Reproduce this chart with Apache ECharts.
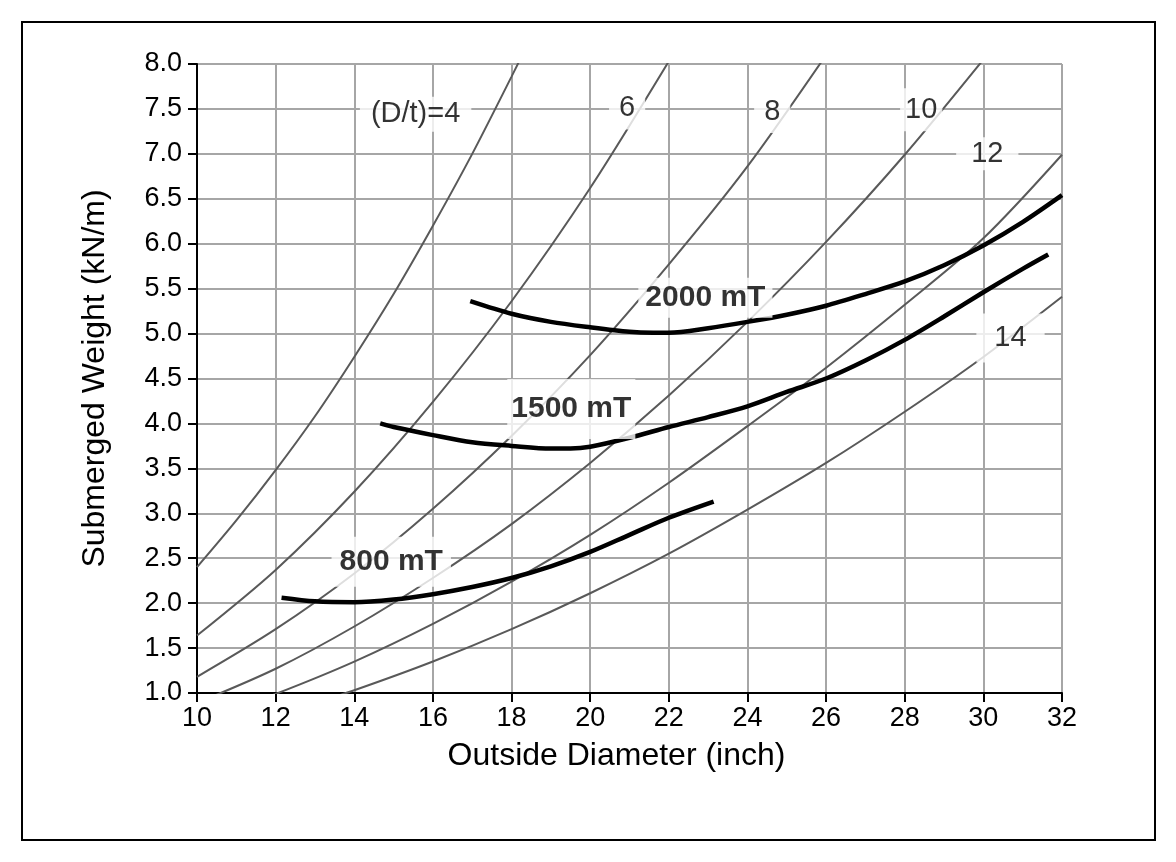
<!DOCTYPE html>
<html>
<head>
<meta charset="utf-8">
<script src="https://cdn.jsdelivr.net/npm/echarts@6/dist/echarts.min.js"></script>
<style>
html,body{margin:0;padding:0;background:#fff;}
#c{width:1176px;height:862px;}
</style>
</head>
<body>
<div id="c"></div>
<script>
// Axis settings
const xTicks = [10,12,14,16,18,20,22,24,26,28,30,32];
const yTicks = [1.0,1.5,2.0,2.5,3.0,3.5,4.0,4.5,5.0,5.5,6.0,6.5,7.0,7.5,8.0];

// D/t curves (Outside Diameter inch, Submerged Weight kN/m)
const dt4  = [[10,2.40],[11,2.92],[12,3.48],[13,4.08],[14,4.74],[15,5.44],[16,6.20],[17,7.00],[18,7.86],[18.5,8.3]];
const dt6  = [[10,1.64],[12,2.37],[14,3.24],[16,4.24],[18,5.36],[20,6.62],[22,8.03]];
const dt8  = [[10,1.18],[12,1.71],[14,2.33],[16,3.05],[18,3.86],[20,4.76],[22,5.77],[24,6.86],[26,8.1]];
const dt10 = [[10,0.89],[12,1.27],[14,1.74],[16,2.28],[18,2.88],[20,3.56],[22,4.31],[24,5.13],[26,6.02],[28,6.99],[30,8.05]];
const dt12 = [[11,0.84],[12,0.99],[14,1.35],[16,1.77],[18,2.24],[20,2.76],[22,3.34],[24,3.97],[26,4.62],[28,5.32],[30,6.06],[32,6.99]];
const dt14 = [[13,0.89],[14,1.03],[16,1.35],[18,1.71],[20,2.11],[22,2.55],[24,3.04],[26,3.56],[28,4.13],[30,4.74],[32,5.41]];

// Load curves
const mt2000 = [[16.95,5.36],[18,5.22],[19,5.13],[20,5.07],[21,5.02],[21.6,5.01],[22,5.01],[23,5.06],[24,5.13],[25,5.21],[26,5.31],[27,5.44],[28,5.58],[29,5.76],[30,5.98],[31,6.24],[32,6.54]];
const mt1500 = [[14.66,4.00],[15,3.96],[16,3.87],[17,3.79],[18,3.75],[19,3.72],[19.5,3.72],[20,3.74],[21,3.84],[22,3.96],[23,4.07],[24,4.19],[25,4.35],[26,4.50],[27,4.70],[28,4.93],[29,5.19],[30,5.46],[31,5.72],[31.65,5.88]];
const mt800  = [[12.15,2.06],[13,2.02],[14,2.01],[15,2.04],[16,2.10],[17,2.18],[18,2.28],[19,2.41],[20,2.57],[21,2.76],[22,2.95],[23.14,3.13]];

// Curve labels: [x, y, text]
const dtLabels = [[15.56,7.44,'(D/t)=4'],[20.94,7.51,'6'],[24.63,7.47,'8'],[28.42,7.49,'10'],[30.10,7.00,'12'],[30.69,4.95,'14']];
const mtLabels = [[22.93,5.40,'2000 mT'],[19.52,4.16,'1500 mT'],[14.94,2.46,'800 mT']];
// label box paddings [vertical, horizontal]
const dtPads = [[3,11],[7,10],[7,10],[7,5],[2,15],[10,18]];
const mtPads = [[5,7],[15,4],[10,8]];

const FONT = 'Arial, "Liberation Sans", sans-serif';
const chart = echarts.init(document.getElementById('c'), null, {renderer:'canvas'});

function thin(data){
  return {type:'line', data:data, smooth:0.3, symbol:'none', clip:true, z:2,
    lineStyle:{color:'#595959', width:2}, silent:true};
}
function thick(data){
  return {type:'line', data:data, smooth:0.3, symbol:'none', clip:true, z:3,
    lineStyle:{color:'#000', width:4.5}, silent:true};
}
function labels(arr, pads, bold, size){
  return {type:'scatter', z:10, symbolSize:1, itemStyle:{color:'rgba(0,0,0,0)'},
    data: arr.map((a,i)=>({value:[a[0],a[1]], name:a[2], label:{padding:pads[i]}})),
    label:{show:true, position:'inside', formatter:p=>p.name, color:'#000',
      fontFamily:FONT, fontSize:size, fontWeight: bold?'bold':'normal',
      backgroundColor:'#fff'}, silent:true};
}

chart.setOption({
  animation:false,
  backgroundColor:'#fff',
  grid:{left:197, right:114, top:64, bottom:169, containLabel:false},
  xAxis:{type:'value', min:10, max:32, interval:2,
    name:'Outside Diameter (inch)', nameLocation:'middle', nameGap:47,
    nameTextStyle:{fontFamily:FONT, fontSize:32, color:'#000', padding:[0,26,0,0]},
    axisLine:{show:true, onZero:false, lineStyle:{color:'#000', width:2}},
    axisTick:{show:true, length:9, lineStyle:{color:'#000', width:2}},
    axisLabel:{fontFamily:FONT, fontSize:27, color:'#000', margin:12},
    splitLine:{show:true, lineStyle:{color:'#a6a6a6', width:2}}},
  yAxis:{type:'value', min:1, max:8, interval:0.5,
    name:'Submerged Weight (kN/m)', nameLocation:'middle', nameGap:86, nameRotate:90,
    nameTextStyle:{fontFamily:FONT, fontSize:32, color:'#000'},
    axisLine:{show:true, onZero:false, lineStyle:{color:'#000', width:2}},
    axisTick:{show:true, length:9, lineStyle:{color:'#000', width:2}},
    axisLabel:{fontFamily:FONT, fontSize:27, color:'#000', margin:15, formatter:v=>v.toFixed(1)},
    splitLine:{show:true, lineStyle:{color:'#a6a6a6', width:2}}},
  graphic:[{type:'rect', shape:{x:22, y:22, width:1133, height:818}, style:{fill:'none', stroke:'#000', lineWidth:2}, z:-1}],
  series:[
    thin(dt4), thin(dt6), thin(dt8), thin(dt10), thin(dt12), thin(dt14),
    thick(mt2000), thick(mt1500), thick(mt800),
    labels(dtLabels, dtPads, false, 29),
    labels(mtLabels, mtPads, true, 30)
  ]
});
</script>
</body>
</html>
